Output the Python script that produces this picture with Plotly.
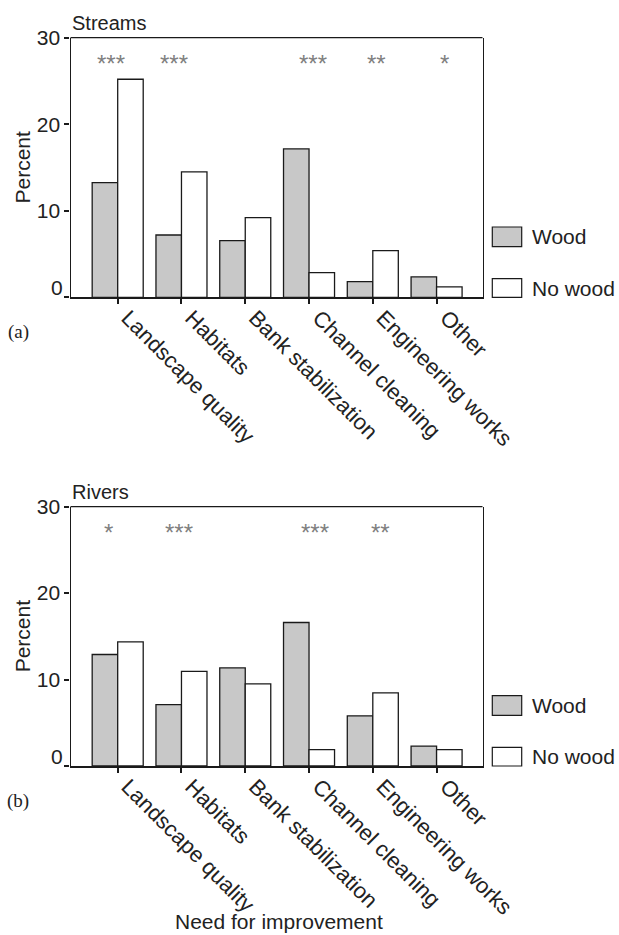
import plotly.graph_objects as go

categories = ["Landscape quality", "Habitats", "Bank stabilization",
              "Channel cleaning", "Engineering works", "Other"]
streams_wood = [13.25, 7.2, 6.55, 17.15, 1.8, 2.35]
streams_nowood = [25.2, 14.5, 9.2, 2.85, 5.4, 1.2]
rivers_wood = [12.9, 7.1, 11.35, 16.6, 5.8, 2.3]
rivers_nowood = [14.35, 10.95, 9.5, 1.9, 8.45, 1.9]
streams_sig = ["***", "***", "", "***", "**", "*"]
rivers_sig = ["*", "***", "", "***", "**", ""]
yticks = [0, 10, 20, 30]
ytick_text = ["", "10", "20", "30"]

W, H = 619, 935
FONT = "Liberation Sans, Arial, Helvetica, sans-serif"
GRAY = "#c8c8c8"
LINE = "#1a1a1a"
TXT = "#222"
# small horizontal nudges (px) of the significance marks, as in the original
streams_star_dx = [-7, -7, 0, 4, 4, 8]
rivers_star_dx = [-9, -2, 0, 6, 8, 0]


def px(x):
    return x / W


def py(y):
    return 1 - y / H


idx = list(range(len(categories)))
fig = go.Figure()

panels = [
    dict(name="Streams", wood=streams_wood, nowood=streams_nowood, sig=streams_sig,
         dx=streams_star_dx, xa="x", ya="y", top=37.7, bot=297.3, letter="(a)"),
    dict(name="Rivers", wood=rivers_wood, nowood=rivers_nowood, sig=rivers_sig,
         dx=rivers_star_dx, xa="x2", ya="y2", top=506.7, bot=766.0, letter="(b)"),
]

annotations = []
shapes = []
for k, p in enumerate(panels):
    fig.add_trace(go.Bar(x=idx, y=p["wood"], name="Wood", xaxis=p["xa"], yaxis=p["ya"],
                         marker=dict(color=GRAY, line=dict(color=LINE, width=1.3)),
                         showlegend=False, offsetgroup="w"))
    fig.add_trace(go.Bar(x=idx, y=p["nowood"], name="No wood", xaxis=p["xa"], yaxis=p["ya"],
                         marker=dict(color="white", line=dict(color=LINE, width=1.3)),
                         showlegend=False, offsetgroup="n"))
    # significance stars
    for i, s in enumerate(p["sig"]):
        if s:
            annotations.append(dict(x=i, y=27.7, xref=p["xa"], yref=p["ya"], text=s,
                                    showarrow=False, yshift=-6, xshift=p["dx"][i],
                                    font=dict(family=FONT, size=24, color="#808080"),
                                    yanchor="middle"))
    # raised zero label
    annotations.append(dict(x=px(65), y=py(p["bot"] - 10), xref="paper", yref="paper",
                            text=str(yticks[0]), showarrow=False, xanchor="right", yanchor="middle",
                            font=dict(family=FONT, size=21, color=TXT)))
    # panel title
    annotations.append(dict(x=px(70), y=py(p["top"] - 15), xref="paper", yref="paper",
                            text=p["name"], showarrow=False, xanchor="left", yanchor="middle",
                            font=dict(family=FONT, size=20, color=TXT)))
    # y-axis title
    annotations.append(dict(x=px(22), y=py((p["top"] + p["bot"]) / 2), xref="paper", yref="paper",
                            text="Percent", textangle=-90, showarrow=False,
                            xanchor="center", yanchor="middle",
                            font=dict(family=FONT, size=21, color=TXT)))
    # panel letter
    annotations.append(dict(x=px(18), y=py(p["bot"] + 35), xref="paper", yref="paper",
                            text=p["letter"], showarrow=False, xanchor="center", yanchor="middle",
                            font=dict(family="Liberation Serif, Times New Roman, serif", size=19,
                                      color=TXT)))
    # top border
    shapes.append(dict(type="line", xref=p["xa"] + " domain", yref=p["ya"] + " domain",
                       x0=0, x1=1, y0=1, y1=1, line=dict(color=LINE, width=1.3)))
    # legend
    b = p["bot"]
    for name, fill, y0, y1 in [("Wood", GRAY, b - 70.3, b - 50.6), ("No wood", "white", b - 18.6, b)]:
        shapes.append(dict(type="rect", xref="paper", yref="paper",
                           x0=px(492.3), x1=px(521.7), y0=py(y1), y1=py(y0),
                           fillcolor=fill, line=dict(color=LINE, width=1.2)))
        annotations.append(dict(x=px(530), y=py((y0 + y1) / 2), xref="paper", yref="paper",
                                text=name, showarrow=False, xanchor="left", yanchor="middle",
                                font=dict(family=FONT, size=21, color=TXT)))

annotations.append(dict(x=px(279), y=0, xref="paper", yref="paper",
                        text="Need for improvement", showarrow=False,
                        xanchor="center", yanchor="bottom",
                        font=dict(family=FONT, size=21, color=TXT)))

xcommon = dict(range=[-0.74, 5.72], tickvals=idx, ticktext=categories, tickangle=45,
               ticklabelshift=10, ticklabelstandoff=-8,
               showline=True, linecolor=LINE, linewidth=2, ticks="outside", ticklen=5,
               tickwidth=2, tickcolor=LINE, showgrid=False, zeroline=False, automargin=False,
               tickfont=dict(family=FONT, size=22, color=TXT), domain=[px(70.5), px(482.5)])
ycommon = dict(range=[0, 30], tickvals=yticks, ticktext=ytick_text, showline=True,
               linecolor=LINE, linewidth=1.3, automargin=False,
               mirror=True, ticks="outside", ticklen=5, tickwidth=2, tickcolor=LINE,
               showgrid=False, zeroline=False,
               tickfont=dict(family=FONT, size=21, color=TXT))

fig.update_layout(
    template="none",
    width=W, height=H, margin=dict(l=0, r=0, t=0, b=0, pad=0, autoexpand=False),
    paper_bgcolor="white", plot_bgcolor="white",
    barmode="group", bargap=0.2, bargroupgap=0,
    xaxis=dict(**xcommon, anchor="y"),
    yaxis=dict(**ycommon, anchor="x", domain=[py(297.3), py(37.7)]),
    xaxis2=dict(**xcommon, anchor="y2"),
    yaxis2=dict(**ycommon, anchor="x2", domain=[py(766.0), py(506.7)]),
    annotations=annotations, shapes=shapes,
)

fig.write_html("out.html", config={"displayModeBar": False},
               post_script="document.body.style.margin='0';document.body.style.overflow='hidden';")
